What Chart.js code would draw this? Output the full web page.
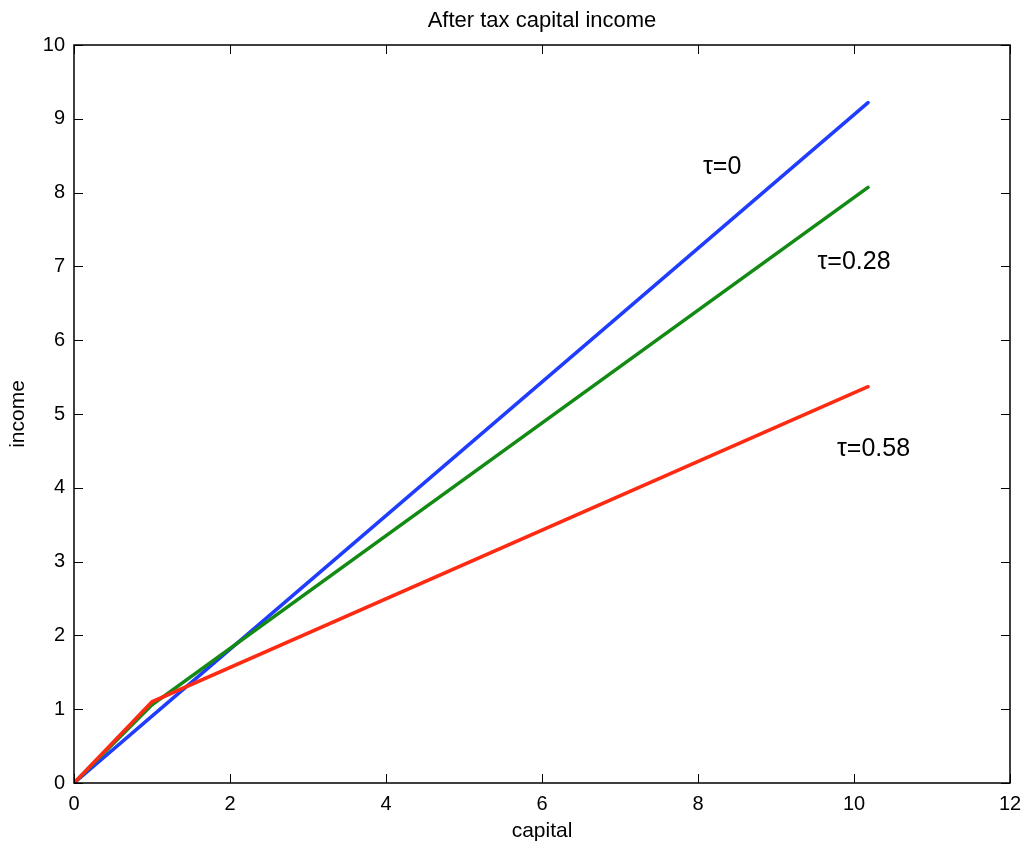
<!DOCTYPE html>
<html>
<head>
<meta charset="utf-8">
<title>After tax capital income</title>
<script src="https://cdn.jsdelivr.net/npm/chart.js@4.4.1/dist/chart.umd.min.js"></script>
<style>
  html, body { margin: 0; padding: 0; background: #fff; }
  #wrap { width: 1033px; height: 846px; }
</style>
</head>
<body>
<div id="wrap"><canvas id="chart"></canvas></div>
<script>
// data
const capital = [0, 1, 10.18];
const incomeTax0 = [0, 0.906, 9.22];
const incomeTax28 = [0, 1.06, 8.07];
const incomeTax58 = [0, 1.10, 5.37];

const xTicks = [0, 2, 4, 6, 8, 10, 12];
const yTicks = [0, 1, 2, 3, 4, 5, 6, 7, 8, 9, 10];

// labels next to the lines: [text, x, y]
const lineLabels = [
    ['\u03c4=0', 8.31, 8.34],
    ['\u03c4=0.28', 10.0, 7.06],
    ['\u03c4=0.58', 10.25, 4.52]
];

const FONT = '"Liberation Sans", Arial, Helvetica, sans-serif';

function toPoints(ys) {
    return capital.map((x, i) => ({ x: x, y: ys[i] }));
}

// box, inward ticks, title and line labels
const framePlugin = {
    id: 'frame',
    afterDatasetsDraw(chart) {
        const ctx = chart.ctx;
        const a = chart.chartArea;
        const sx = chart.scales.x;
        const sy = chart.scales.y;
        const len = 9;

        ctx.save();
        ctx.strokeStyle = '#000';
        ctx.lineWidth = 1.5;
        ctx.strokeRect(a.left, a.top, a.right - a.left, a.bottom - a.top);

        ctx.lineWidth = 1;
        ctx.beginPath();
        xTicks.forEach(v => {
            const px = Math.round(sx.getPixelForValue(v)) + 0.5;
            ctx.moveTo(px, a.bottom); ctx.lineTo(px, a.bottom - len);
            ctx.moveTo(px, a.top); ctx.lineTo(px, a.top + len);
        });
        yTicks.forEach(v => {
            const py = Math.round(sy.getPixelForValue(v)) + 0.5;
            ctx.moveTo(a.left, py); ctx.lineTo(a.left + len, py);
            ctx.moveTo(a.right, py); ctx.lineTo(a.right - len, py);
        });
        ctx.stroke();

        ctx.fillStyle = '#000';
        ctx.font = '22px ' + FONT;
        ctx.textAlign = 'center';
        ctx.textBaseline = 'middle';
        ctx.fillText('After tax capital income', (a.left + a.right) / 2, 21);

        ctx.font = '25px ' + FONT;
        lineLabels.forEach(([txt, x, y]) => {
            ctx.fillText(txt, sx.getPixelForValue(x), sy.getPixelForValue(y));
        });
        ctx.restore();
    }
};

new Chart(document.getElementById('chart'), {
    type: 'line',
    data: {
        datasets: [
            { label: '\u03c4=0', data: toPoints(incomeTax0), borderColor: '#1f3cff', order: 3 },
            { label: '\u03c4=0.28', data: toPoints(incomeTax28), borderColor: '#138a13', order: 2 },
            { label: '\u03c4=0.58', data: toPoints(incomeTax58), borderColor: '#ff2a12', order: 1 }
        ]
    },
    options: {
        responsive: true,
        maintainAspectRatio: false,
        animation: false,
        parsing: false,
        elements: {
            line: { borderWidth: 3.5, tension: 0, borderCapStyle: 'round', fill: false },
            point: { radius: 0, hoverRadius: 0 }
        },
        layout: { padding: { top: 45, right: 23, bottom: 0, left: 0 } },
        plugins: {
            legend: { display: false },
            tooltip: { enabled: false },
            title: { display: false }
        },
        scales: {
            x: {
                type: 'linear',
                min: 0,
                max: 12,
                afterBuildTicks: (s) => { s.ticks = xTicks.map(v => ({ value: v })); },
                afterFit: (s) => { s.height = 63; },
                grid: { display: false, drawTicks: false },
                border: { display: false },
                ticks: { color: '#000', padding: 9, maxRotation: 0, font: { size: 20, family: FONT } },
                title: { display: true, text: 'capital', color: '#000', padding: { top: 0, bottom: 2 }, font: { size: 21, family: FONT } }
            },
            y: {
                type: 'linear',
                min: 0,
                max: 10,
                afterBuildTicks: (s) => { s.ticks = yTicks.map(v => ({ value: v })); },
                afterFit: (s) => { s.width = 74; },
                grid: { display: false, drawTicks: false },
                border: { display: false },
                ticks: { color: '#000', padding: 9, font: { size: 20, family: FONT } },
                title: { display: true, text: 'income', color: '#000', padding: { top: 6, bottom: 0 }, font: { size: 21, family: FONT } }
            }
        }
    },
    plugins: [framePlugin]
});
</script>
</body>
</html>
